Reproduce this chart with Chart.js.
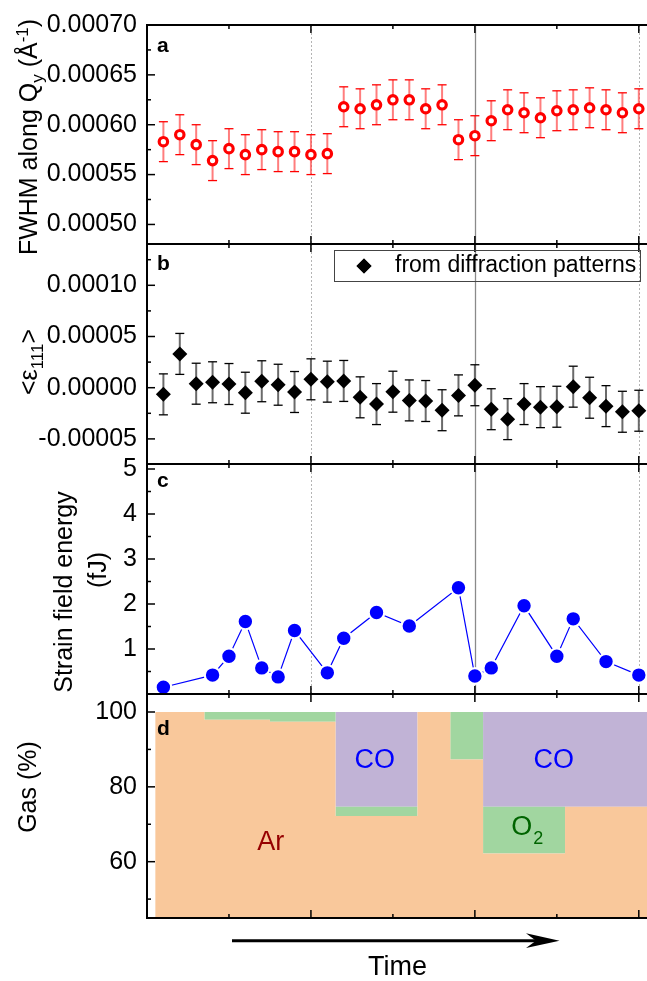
<!DOCTYPE html>
<html><head><meta charset="utf-8">
<script src="https://cdn.jsdelivr.net/npm/chart.js@4.4.1/dist/chart.umd.min.js"></script>
<style>
html,body{margin:0;padding:0;background:#fff;}
#wrap{position:relative;width:647px;height:981px;overflow:hidden;background:#fff;}
#wrap canvas{position:absolute;left:0;top:0;}
</style></head><body>
<div id="wrap">
<canvas id="ca" width="647" height="981"></canvas>
<canvas id="cb" width="647" height="981"></canvas>
<canvas id="cc" width="647" height="981"></canvas>
<canvas id="cd" width="647" height="981"></canvas>
</div>
<script>
const FONT = '"Liberation Sans", Arial, Helvetica, sans-serif';

// ---------------- data ----------------
const timeAB = [0.1,0.2,0.3,0.4,0.5,0.6,0.7,0.8,0.9,1.0,1.1,1.2,1.3,1.4,1.5,1.6,1.7,1.8,1.9,2.0,2.1,2.2,2.3,2.4,2.5,2.6,2.7,2.8,2.9,3.0];
const fwhm = [0.000583,0.000590,0.000580,0.000564,0.000576,0.000570,0.000575,0.000573,0.000573,0.000570,
              0.000571,0.000618,0.000616,0.000620,0.000625,0.000625,0.000616,0.000620,0.000585,0.000589,
              0.000604,0.000615,0.000612,0.000607,0.000614,0.000615,0.000617,0.000615,0.000612,0.000616];
const fwhmErr = [0.00002,0.00002,0.00002,0.00002,0.00002,0.00002,0.00002,0.00002,0.00002,0.00002,
                 0.00002,0.00002,0.00002,0.00002,0.00002,0.00002,0.00002,0.00002,0.00002,0.00002,
                 0.00002,0.00002,0.00002,0.00002,0.00002,0.00002,0.00002,0.00002,0.00002,0.00002];
const strain = [-0.65e-5,3.3e-5,0.39e-5,0.53e-5,0.36e-5,-0.49e-5,0.63e-5,0.29e-5,-0.42e-5,0.82e-5,
                0.59e-5,0.66e-5,-0.94e-5,-1.6e-5,-0.39e-5,-1.24e-5,-1.3e-5,-2.2e-5,-0.75e-5,0.24e-5,
                -2.1e-5,-3.07e-5,-1.6e-5,-1.9e-5,-1.86e-5,0.1e-5,-0.98e-5,-1.8e-5,-2.35e-5,-2.25e-5];
const strainErr = [2e-5,2e-5,2e-5,2e-5,2e-5,2e-5,2e-5,2e-5,2e-5,2e-5,
                   2e-5,2e-5,2e-5,2e-5,2e-5,2e-5,2e-5,2e-5,2e-5,2e-5,
                   2e-5,2e-5,2e-5,2e-5,2e-5,2e-5,2e-5,2e-5,2e-5,2e-5];
const timeC = [0.1,0.4,0.5,0.6,0.7,0.8,0.9,1.1,1.2,1.4,1.6,1.9,2.0,2.1,2.3,2.5,2.6,2.8,3.0];
const energy = [0.15,0.42,0.84,1.61,0.58,0.38,1.41,0.47,1.24,1.81,1.51,2.36,0.40,0.58,1.96,0.84,1.67,0.72,0.42];
const gasTime = [0.05,0.35,0.75,1.15,1.65,1.85,2.05,2.55,3.05];
const gasAr = [100,97.9,97.4,72.2,100,87.3,62.2,74.7,74.7];
const gasO2 = [0,2.1,2.6,2.5,0,12.7,12.5,0,0];
const gasCO = [0,0,0,25.3,0,0,25.3,25.3,25.3];
const ticksA = [0.0005,0.00055,0.0006,0.00065,0.0007];
const ticksB = [-0.00005,0,0.00005,0.0001];
const ticksC = [1,2,3,4,5];
const ticksD = [60,80,100];
const xMajor = [0,1,2,3];
const xMinor = [0.5,1.5,2.5];

// ---------------- helpers ----------------
function richText(ctx, parts, size) {
  const items = parts.map(([t,k]) => {
    const s = k === 'n' ? size : Math.round(size*0.66);
    ctx.font = s + 'px ' + FONT;
    return {t, k, s, w: ctx.measureText(t).width};
  });
  const total = items.reduce((a,b)=>a+b.w,0);
  let x = -total/2;
  for (const it of items) {
    ctx.font = it.s + 'px ' + FONT;
    const dy = it.k === 'sub' ? size*0.24 : (it.k === 'sup' ? -size*0.36 : 0);
    ctx.fillText(it.t, x, dy);
    x += it.w;
  }
}
function rotTitle(ctx, parts, size, bx, cy) {
  ctx.save();
  ctx.translate(bx, cy); ctx.rotate(-Math.PI/2);
  ctx.textAlign = 'left'; ctx.textBaseline = 'alphabetic'; ctx.fillStyle = '#000';
  richText(ctx, parts, size);
  ctx.restore();
}
function seg(ctx,x1,y1,x2,y2){ctx.beginPath();ctx.moveTo(x1,y1);ctx.lineTo(x2,y2);ctx.stroke();}

function gridPlugin() {
  return { id:'vgrid', beforeDatasetsDraw(chart) {
    const {ctx, chartArea:ca, scales:{x}} = chart;
    ctx.save();
    ctx.lineWidth = 1;
    xMajor.forEach(v => {
      if (v === 0) return;
      const px = Math.round(x.getPixelForValue(v)) + 0.5;
      if (v === 2) { ctx.setLineDash([]); ctx.strokeStyle = '#8a8a8a'; ctx.lineWidth = 1.3; }
      else { ctx.setLineDash([2,2]); ctx.strokeStyle = '#b4b4b4'; ctx.lineWidth = 1; }
      seg(ctx, px, ca.top, px, ca.bottom);
    });
    ctx.restore();
  }};
}
function errPlugin(errArr, lineColor, capColor) {
  return { id:'err', beforeDatasetsDraw(chart) {
    const {ctx, scales:{y}} = chart;
    const meta = chart.getDatasetMeta(0);
    const data = chart.data.datasets[0].data;
    ctx.save();
    meta.data.forEach((pt,i) => {
      const v = data[i].y, e = errArr[i];
      const y1 = y.getPixelForValue(v+e), y2 = y.getPixelForValue(v-e);
      ctx.strokeStyle = lineColor; ctx.lineWidth = 2;
      seg(ctx, pt.x, y1, pt.x, y2);
      ctx.strokeStyle = capColor; ctx.lineWidth = 1.3;
      seg(ctx, pt.x-4.5, y1, pt.x+4.5, y1);
      seg(ctx, pt.x-4.5, y2, pt.x+4.5, y2);
    });
    ctx.restore();
  }};
}
function framePlugin(letter, letterDy, extra) {
  return { id:'frame', afterDraw(chart) {
    const {ctx, chartArea:ca, scales:{x,y}} = chart;
    ctx.save();
    ctx.strokeStyle = '#000'; ctx.lineWidth = 2; ctx.setLineDash([]);
    seg(ctx, ca.left, ca.top, ca.right, ca.top);
    seg(ctx, ca.left, ca.bottom, ca.right, ca.bottom);
    seg(ctx, ca.left, ca.top-1, ca.left, ca.bottom+1);
    ctx.lineWidth = 1.5;
    // x ticks (inward, top and bottom)
    xMajor.concat(xMinor).forEach(v => {
      const L = xMajor.includes(v) ? 8 : 4;
      const px = x.getPixelForValue(v);
      seg(ctx, px, ca.top, px, ca.top+L);
      seg(ctx, px, ca.bottom, px, ca.bottom-L);
    });
    // y ticks (inward, major + minor)
    const maj = y.ticks.map(t=>t.value);
    const half = (maj[1]-maj[0])/2;
    const start = maj[0] - Math.floor((maj[0]-y.min)/half + 1e-9)*half;
    for (let k=0; ; k++) {
      const v = start + k*half;
      if (v > y.max + half*1e-6) break;
      const isMaj = maj.some(m => Math.abs(m-v) < half*1e-3);
      const py = y.getPixelForValue(v);
      seg(ctx, ca.left, py, ca.left + (isMaj ? 8 : 4), py);
    }
    // panel letter
    ctx.fillStyle = '#000';
    ctx.font = 'bold 21px ' + FONT;
    ctx.textAlign = 'left'; ctx.textBaseline = 'alphabetic';
    ctx.fillText(letter, ca.left+10, ca.top+letterDy);
    if (extra) extra(chart, ctx);
    ctx.restore();
  }};
}

function baseOptions(padTop, padBottom, ymin, ymax, tickArr, fmt, stacked) {
  return {
    responsive: false, animation: false, devicePixelRatio: 1,
    layout: { autoPadding: false, padding: { top: padTop, bottom: padBottom, left: 0, right: 0 } },
    plugins: { legend: { display: false }, tooltip: { enabled: false } },
    scales: {
      x: { type: 'linear', display: false, min: 0, max: 3.05 },
      y: {
        type: 'linear', min: ymin, max: ymax, stacked: !!stacked,
        grid: { display: false, drawTicks: false }, border: { display: false },
        ticks: { color: '#000', padding: 10, font: { family: FONT, size: 25 }, callback: fmt, autoSkip: false },
        afterBuildTicks: s => { s.ticks = tickArr.map(v => ({ value: v })); },
        afterFit: s => { s.width = 147; }
      }
    }
  };
}
const pts = (xs, ys) => xs.map((v,i) => ({ x: v, y: ys[i] }));
const fmt5 = v => Number(v).toFixed(5);
const fmt0 = v => String(Math.round(v));

// ---------------- panel a ----------------
new Chart(document.getElementById('ca'), {
  type: 'line',
  data: { datasets: [{
    data: pts(timeAB, fwhm), showLine: false,
    pointStyle: 'circle', pointRadius: 4.2, pointBorderWidth: 3.2,
    pointBorderColor: '#ff0000', pointBackgroundColor: '#ffffff', clip: false
  }]},
  options: baseOptions(20, 981-244, 0.0007 - 224*0.00005/51, 0.0007, ticksA, fmt5),
  plugins: [gridPlugin(), errPlugin(fwhmErr, 'rgba(255,70,70,0.7)', '#ff0000'),
    framePlugin('a', 27, (chart, ctx) => {
      rotTitle(ctx, [['FWHM along Q','n'],['y','sub'],[' (Å','n'],['-1','sup'],[')','n']], 25, 37, 137);
    })]
});

// ---------------- panel b ----------------
new Chart(document.getElementById('cb'), {
  type: 'line',
  data: { datasets: [{
    data: pts(timeAB, strain), showLine: false,
    pointStyle: 'rectRot', pointRadius: 7.5, pointBorderWidth: 0,
    pointBackgroundColor: '#000', pointBorderColor: '#000', clip: false
  }]},
  options: baseOptions(244, 981-464, -76.3*0.00005/51.2, 143.7*0.00005/51.2, ticksB, fmt5),
  plugins: [gridPlugin(), errPlugin(strainErr, '#6a6a6a', '#000'),
    framePlugin('b', 26, (chart, ctx) => {
      rotTitle(ctx, [['<ε','n'],['111','sub'],['>','n']], 25, 37, 362);
      // legend
      ctx.lineWidth = 1; ctx.strokeStyle = '#444';
      ctx.strokeRect(334.5, 250.5, 306, 31);
      Chart.helpers.drawPoint(ctx, { pointStyle: 'rectRot', radius: 7.5, borderWidth: 0 }, 364, 266);
      ctx.fillStyle = '#000'; ctx.fill();
      ctx.font = '23px ' + FONT; ctx.textAlign = 'left'; ctx.textBaseline = 'middle';
      ctx.fillText('from diffraction patterns', 395, 266);
    })]
});

// ---------------- panel c ----------------
new Chart(document.getElementById('cc'), {
  type: 'line',
  data: { datasets: [{
    data: pts(timeC, energy), showLine: true, borderColor: '#0000ff', borderWidth: 1.2,
    pointStyle: 'circle', pointRadius: 7.8, pointBorderWidth: 2.2,
    pointBackgroundColor: '#0000ff', pointBorderColor: '#ffffff', clip: false, tension: 0
  }]},
  options: baseOptions(464, 981-694, 0, 230/45, ticksC, fmt0),
  plugins: [gridPlugin(),
    framePlugin('c', 23, (chart, ctx) => {
      rotTitle(ctx, [['Strain field energy','n']], 25, 72, 592);
      rotTitle(ctx, [['(fJ)','n']], 25, 106, 570);
    })]
});

// ---------------- panel d ----------------
const gasLabels = { id: 'gasLabels', afterDatasetsDraw(chart) {
  const {ctx, scales:{x,y}} = chart;
  ctx.save();
  ctx.textAlign = 'center'; ctx.textBaseline = 'middle';
  ctx.font = '27px ' + FONT;
  ctx.fillStyle = '#960000'; ctx.fillText('Ar', x.getPixelForValue(0.755), y.getPixelForValue(65.1));
  ctx.fillStyle = '#0000ff';
  ctx.fillText('CO', x.getPixelForValue(1.389), y.getPixelForValue(87.0));
  ctx.fillText('CO', x.getPixelForValue(2.481), y.getPixelForValue(87.0));
  ctx.fillStyle = '#006400';
  const ox = x.getPixelForValue(2.316), oy = y.getPixelForValue(69.0);
  ctx.textAlign = 'left';
  ctx.font = '27px ' + FONT; const wO = ctx.measureText('O').width;
  ctx.font = '18px ' + FONT; const w2 = ctx.measureText('2').width;
  const sx = ox - (wO + w2)/2;
  ctx.font = '27px ' + FONT; ctx.fillText('O', sx, oy);
  ctx.font = '18px ' + FONT; ctx.fillText('2', sx + wO + 1, oy + 11);
  ctx.restore();
}};
const gasDs = (vals, color, fill) => ({
  data: pts(gasTime, vals), stepped: 'before', fill: fill,
  backgroundColor: color, borderColor: 'transparent', borderWidth: 0, pointRadius: 0
});
new Chart(document.getElementById('cd'), {
  type: 'line',
  data: { datasets: [
    gasDs(gasAr, '#f9c89b', 'start'),
    gasDs(gasO2, '#a1d6a0', '-1'),
    gasDs(gasCO, '#c1b3d6', '-1')
  ]},
  options: baseOptions(694, 981-918, 100 - 206/3.742, 100 + 18/3.742, ticksD, fmt0, true),
  plugins: [gasLabels,
    framePlugin('d', 41, (chart, ctx) => {
      rotTitle(ctx, [['Gas (%)','n']], 25, 36, 787);
      // time arrow
      ctx.strokeStyle = '#000'; ctx.lineWidth = 3;
      seg(ctx, 232, 940.7, 542, 940.7);
      ctx.fillStyle = '#000';
      ctx.beginPath();
      ctx.moveTo(559.5, 940.7); ctx.lineTo(526, 933.3); ctx.lineTo(536, 940.7); ctx.lineTo(526, 948.1);
      ctx.closePath(); ctx.fill();
      ctx.font = '27px ' + FONT; ctx.textAlign = 'center'; ctx.textBaseline = 'alphabetic';
      ctx.fillText('Time', 397.5, 975);
    })]
});
</script>
</body></html>
